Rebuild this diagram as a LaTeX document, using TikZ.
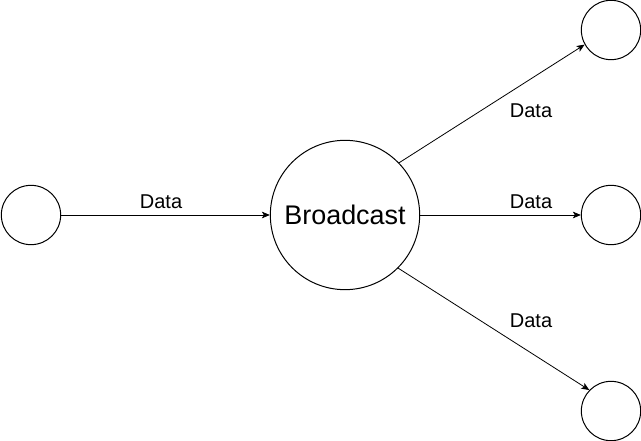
\documentclass[tikz,border=0pt]{standalone}
\usepackage{fontspec}
\setmainfont{Liberation Sans}
\usetikzlibrary{positioning, arrows.meta}

\begin{document}
\begin{tikzpicture}[
    x=0.75pt, y=-0.75pt,
    end_node/.style={circle, draw=black, line width=0.75pt, fill=white, inner sep=0pt, minimum size=44.5pt},
    hub_node/.style={circle, draw=black, line width=0.75pt, fill=white, inner sep=0pt, minimum size=112pt, font=\fontsize{20.2}{24}\selectfont},
    flow_arrow/.style={-{Stealth[length=6pt, width=5pt, inset=1.5pt]}, line width=0.6pt, black},
    label_text/.style={font=\fontsize{15}{18}\selectfont, inner sep=0pt}
]
\useasboundingbox (0,0) rectangle (641,441);

% Source
\node[end_node] (src) at (31,215) {};

% Broadcast hub
\node[hub_node] (hub) at (345,215) {Broadcast};

% Receivers
\node[end_node] (dst_top) at (611,30) {};
\node[end_node] (dst_mid) at (611,215) {};
\node[end_node] (dst_bot) at (611,411) {};

% Arrows
\draw[flow_arrow] (src) -- (hub);
\draw[flow_arrow] (hub.44.5) -- (dst_top.209.7);
\draw[flow_arrow] (hub) -- (dst_mid);
\draw[flow_arrow] (hub.-45.6) -- (dst_bot.136);

% Labels
\node[label_text] (lbl_in) at (161,202) {Data};
\node[label_text] (lbl_top) at (531,111) {Data};
\node[label_text] (lbl_mid) at (531,202) {Data};
\node[label_text] (lbl_bot) at (531,321) {Data};

\end{tikzpicture}
\end{document}
